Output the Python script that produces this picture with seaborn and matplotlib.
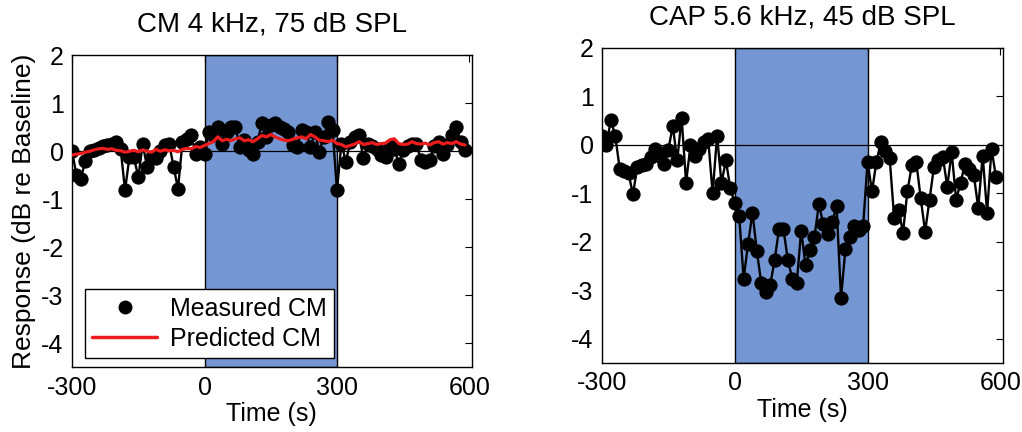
import numpy as np
import pandas as pd
import matplotlib
matplotlib.use("Agg")
import matplotlib.pyplot as plt
from matplotlib.lines import Line2D
import seaborn as sns

# ---------------- data ----------------
time_s = list(range(-300, 600, 10))  # 90 samples, 10 s apart

cm_measured = [
    0.01, -0.50, -0.57, -0.20, 0.00, 0.02, 0.06, 0.10, 0.13, 0.15,
    0.19, 0.05, -0.81, -0.12, -0.12, -0.54, 0.15, -0.33, -0.12, -0.15,
    0.00, 0.13, 0.16, -0.33, -0.78, 0.19, 0.26, 0.33, -0.05, 0.09,
    -0.05, 0.40, 0.33, 0.50, 0.16, 0.40, 0.51, 0.50, 0.09, 0.23,
    0.02, -0.05, 0.20, 0.58, 0.30, 0.54, 0.58, 0.50, 0.47, 0.40,
    0.13, 0.09, 0.44, 0.40, 0.09, 0.40, -0.01, 0.30, 0.61, 0.44,
    -0.81, 0.16, -0.22, 0.19, 0.30, 0.33, -0.15, 0.16, 0.10, 0.05,
    -0.08, -0.12, 0.10, 0.05, -0.26, 0.02, 0.10, 0.15, 0.16, -0.19,
    -0.22, -0.19, 0.10, 0.19, -0.05, 0.13, 0.33, 0.50, 0.20, 0.02,
]

cm_predicted = [
    -0.08, -0.06, -0.05, -0.02, 0.00, 0.03, 0.05, 0.06, 0.04, 0.05,
    0.02, 0.01, -0.02, 0.00, 0.02, -0.01, 0.03, 0.00, -0.02, 0.04,
    0.00, 0.03, 0.01, 0.02, -0.01, 0.04, 0.06, 0.05, 0.10, 0.08,
    0.12, 0.16, 0.20, 0.30, 0.22, 0.25, 0.22, 0.26, 0.28, 0.22,
    0.24, 0.20, 0.26, 0.33, 0.30, 0.35, 0.30, 0.26, 0.23, 0.22,
    0.25, 0.28, 0.30, 0.26, 0.35, 0.30, 0.23, 0.22, 0.20, 0.23,
    0.16, 0.14, 0.09, 0.12, 0.15, 0.20, 0.14, 0.16, 0.18, 0.14,
    0.16, 0.17, 0.24, 0.26, 0.16, 0.14, 0.15, 0.20, 0.16, 0.15,
    0.17, 0.13, 0.18, 0.20, 0.15, 0.18, 0.16, 0.20, 0.15, 0.13,
]

cap_measured = [
    0.18, -0.01, 0.51, 0.19, -0.49, -0.54, -0.59, -1.02, -0.45, -0.41,
    -0.40, -0.25, -0.08, -0.22, -0.39, -0.10, 0.39, -0.32, 0.56, -0.78,
    -0.01, -0.22, -0.08, 0.05, 0.12, -1.00, 0.19, -0.79, -0.32, -0.90,
    -1.20, -1.47, -2.76, -2.05, -1.40, -2.20, -2.86, -3.03, -2.90, -2.38,
    -1.74, -1.74, -2.38, -2.76, -2.86, -1.77, -2.49, -2.18, -1.91, -1.22,
    -1.64, -1.84, -1.60, -1.27, -3.16, -2.15, -1.91, -1.67, -1.75, -1.67,
    -0.35, -0.96, -0.35, 0.05, -0.12, -0.28, -1.50, -1.34, -1.81, -0.96,
    -0.42, -0.35, -1.10, -1.79, -1.13, -0.45, -0.32, -0.25, -0.86, -0.15,
    -1.13, -0.79, -0.39, -0.49, -0.62, -1.30, -0.22, -1.40, -0.08, -0.66,
]

stim_on, stim_off = 0, 300
x_ticks = [-300, 0, 300, 600]
y_ticks = [2, 1, 0, -1, -2, -3, -4]
titles = ["CM 4 kHz, 75 dB SPL", "CAP 5.6 kHz, 45 dB SPL"]
x_label = "Time (s)"
y_label = "Response (dB re Baseline)"
legend_labels = ["Measured CM", "Predicted CM"]

# ---------------- style ----------------
sns.set_theme(style="white")
plt.rcParams["font.family"] = ["Liberation Sans", "DejaVu Sans"]
plt.rcParams["axes.unicode_minus"] = False
plt.rcParams["text.color"] = "black"
plt.rcParams["axes.labelcolor"] = "black"
FS = 18
FS_TITLE = 20

fig = plt.figure(figsize=(10.22, 4.32), dpi=100)
ax1 = fig.add_axes([0.0705, 0.150, 0.391, 0.722])
ax2 = fig.add_axes([0.589, 0.160, 0.392, 0.729])

df_cm = pd.DataFrame({"t": time_s, "meas": cm_measured, "pred": cm_predicted})
df_cap = pd.DataFrame({"t": time_s, "meas": cap_measured})

shade = "#7497d3"
red = "#ee1c1c"

def style_axes(ax):
    ax.axvspan(stim_on, stim_off, facecolor=shade, edgecolor="black", lw=1.0, zorder=0)
    ax.axhline(0, color="black", lw=0.9, zorder=1)
    ax.set_xlim(-300, 605)
    ax.set_ylim(-4.5, 2)
    ax.set_xticks(x_ticks)
    ax.set_yticks(y_ticks)
    ax.set_xticklabels([str(v) for v in x_ticks])
    ax.set_yticklabels([str(v) for v in y_ticks])
    ax.tick_params(direction="in", length=5, width=0.8, top=True, right=True,
                   labelsize=FS, pad=6, colors="black")
    for s in ax.spines.values():
        s.set_visible(True)
        s.set_color("black")
        s.set_linewidth(1.0)
    ax.set_xlabel(x_label, fontsize=FS, labelpad=2, color="black")

# left panel
sns.lineplot(data=df_cm, x="t", y="meas", ax=ax1, color="black", lw=1.7,
             marker="o", markersize=9.5, markeredgecolor="black", zorder=3)
sns.lineplot(data=df_cm, x="t", y="pred", ax=ax1, color=red, lw=2.3, zorder=4)
style_axes(ax1)
ax1.set_ylabel(y_label, fontsize=19, labelpad=4, color="black")
ax1.set_title(titles[0], fontsize=FS_TITLE, pad=17, color="black")
handles = [Line2D([], [], marker="o", color="black", linestyle="none", markersize=9),
           Line2D([], [], color=red, lw=2.5)]
leg = ax1.legend(handles, legend_labels, loc="lower left", bbox_to_anchor=(0.025, 0.02),
                 fontsize=FS, frameon=True, fancybox=False, framealpha=1,
                 edgecolor="black", borderpad=0.3, handlelength=2.6,
                 labelspacing=0.25, handletextpad=0.5, borderaxespad=0.1)
leg.get_frame().set_linewidth(1.0)
for txt in leg.get_texts():
    txt.set_color("black")

# right panel
sns.lineplot(data=df_cap, x="t", y="meas", ax=ax2, color="black", lw=1.7,
             marker="o", markersize=9.5, markeredgecolor="black", zorder=3)
style_axes(ax2)
ax2.set_ylabel("")
ax2.set_title(titles[1], fontsize=FS_TITLE, pad=17, color="black")

fig.savefig("out.png", dpi=100)
